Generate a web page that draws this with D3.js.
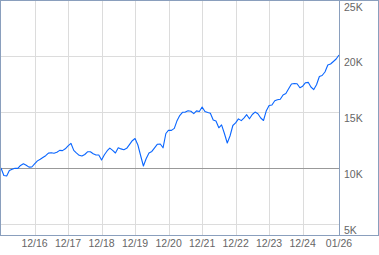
<!DOCTYPE html>
<html><head><meta charset="utf-8">
<script src="https://cdn.jsdelivr.net/npm/d3@7"></script>
<style>html,body{margin:0;padding:0;background:#fff;}svg{display:block;}</style>
</head><body><svg id="c" width="379" height="255"></svg>
<script>
const startMonth = "2015-12";
const values = [10000,9328,9284,9776,9893,9973,9964,10233,10376,10242,10081,10090,
10367,10636,10788,10940,11101,11334,11361,11325,11406,11576,11558,11719,
11988,12212,11576,11352,11137,11075,11209,11451,11460,11281,11164,11164,
10716,11191,11549,11782,11576,11343,11809,11711,11639,11764,12096,12445,
12642,12060,11075,10179,10851,11352,11487,11809,12131,12149,11809,13090,
13385,13367,13546,14200,14693,14988,15006,15123,15078,14872,15114,15060,
15463,15060,14970,14908,14299,14209,13600,13860,13090,12239,12866,13806,
14039,14397,14245,14469,14773,14406,14791,15006,14863,14478,14254,15131,
15597,15642,16018,16107,16161,16537,16663,17093,17522,17567,17549,17191,
17325,17639,17666,17254,17021,17460,18194,18284,18598,19224,19313,19537,
19761,20119];
const xTickDates = ["2016-12","2017-12","2018-12","2019-12","2020-12","2021-12","2022-12","2023-12","2024-12","2026-01"];
const xTickLabels = ["12/16","12/17","12/18","12/19","12/20","12/21","12/22","12/23","12/24","01/26"];
const yTicks = [5000,10000,15000,20000,25000];
const yTickLabels = ["5K","10K","15K","20K","25K"];
const baseline = 10000;

const parse = d3.timeParse("%Y-%m");
const t0 = parse(startMonth);
const dates = values.map((v,i)=>d3.timeMonth.offset(t0,i));
const svg = d3.select("#c");
const x = d3.scaleTime().domain([t0, parse("2026-01")]).range([1,339]);
const y = d3.scaleLinear().domain([4000,25000]).range([235,0.5]);
const px = v => Math.round(v)+0.5;
const font = "'Liberation Sans', Arial, sans-serif";

// grid
svg.append("g").selectAll("line").data(xTickDates.slice(0,-1)).join("line")
  .attr("x1",d=>px(x(parse(d)))).attr("x2",d=>px(x(parse(d))))
  .attr("y1",0).attr("y2",235).attr("stroke","#dcdcdc").attr("stroke-width",1);
svg.append("g").selectAll("line").data(yTicks.filter(t=>t!==baseline && t<25000)).join("line")
  .attr("x1",0).attr("x2",339).attr("y1",d=>px(y(d))).attr("y2",d=>px(y(d)))
  .attr("stroke","#dcdcdc").attr("stroke-width",1);
svg.append("line").attr("x1",0).attr("x2",339).attr("y1",px(y(baseline))).attr("y2",px(y(baseline)))
  .attr("stroke","#999").attr("stroke-width",1);

// line
const line = d3.line().x((d,i)=>x(dates[i])).y(d=>y(d));
svg.append("path").datum(values).attr("d",line).attr("fill","none")
  .attr("stroke","#0a66ff").attr("stroke-width",1.1).attr("stroke-linejoin","round");

// frame
svg.append("rect").attr("x",0.5).attr("y",0.5).attr("width",378).attr("height",235)
  .attr("fill","none").attr("stroke","#8a9fbd").attr("stroke-width",1);
svg.append("line").attr("x1",339.5).attr("x2",339.5).attr("y1",0).attr("y2",235.5)
  .attr("stroke","#8a9fbd").attr("stroke-width",1);

// y labels
svg.append("g").selectAll("text").data(yTicks).join("text")
  .attr("x",344).attr("y",d=>y(d)+10).text((d,i)=>yTickLabels[i])
  .attr("font-family",font).attr("font-size",10.5).attr("fill","#666");
// x labels
svg.append("g").selectAll("text").data(xTickDates).join("text")
  .attr("x",d=>x(parse(d))).attr("y",247).attr("text-anchor","middle").text((d,i)=>xTickLabels[i])
  .attr("font-family",font).attr("font-size",10.5).attr("fill","#666");
</script></body></html>
